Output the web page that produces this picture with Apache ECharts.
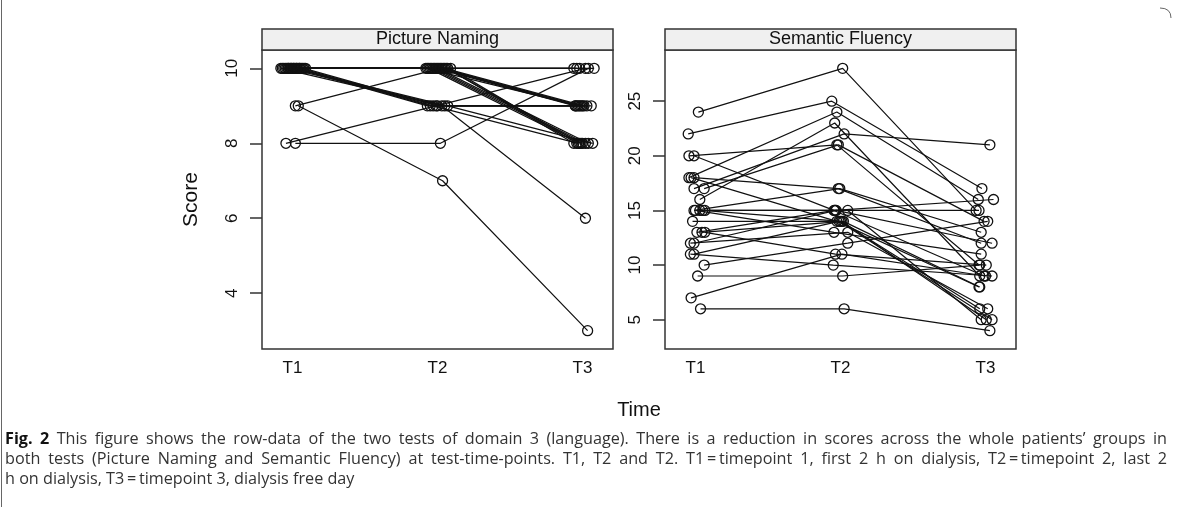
<!DOCTYPE html>
<html><head><meta charset="utf-8">
<script src="https://cdn.jsdelivr.net/npm/echarts@6/dist/echarts.min.js"></script>
<style>html,body{margin:0;padding:0;background:#fff}#c{width:1179px;height:507px}</style>
</head><body><div id="c"></div>
<script>
// ---------- data ----------
const timeLabels = ['T1', 'T2', 'T3'];
const panelTitles = ['Picture Naming', 'Semantic Fluency'];
const pnTicks = [4, 6, 8, 10];
const sfTicks = [5, 10, 15, 20, 25];

// Picture Naming scores per subject at T1, T2, T3
const pnT1 = [10,10,10,10,10,10,10,10,10,10,10,10,10,10,10,10,10,10,10,10,9,9,8,8,10,10,10];
const pnT2 = [10,10,10,10,10,10,10,10,10,10,10,10,10,9,9,9,9,9,9,9,10,7,9,8,10,10,10];
const pnT3 = [10,10,10,9,9,9,9,8,8,8,8,8,8,9,9,8,9,6,9,8,9,3,10,10,10,8,9];
// jittered time positions
const pnX1 = [0.93,0.95,0.97,0.99,1.01,1.03,1.05,1.07,1.09,0.94,0.96,0.98,1.00,1.02,1.04,1.06,1.08,0.92,0.97,1.01,1.02,1.04,0.955,1.02,1.05,0.99,1.03];
const pnX2 = [1.93,1.95,1.97,1.99,2.01,2.03,2.05,2.07,2.09,1.94,1.96,1.98,2.00,1.93,1.95,1.97,2.00,2.03,2.05,2.07,2.02,2.035,1.99,2.02,2.04,2.06,1.92];
const pnX3 = [2.94,2.96,2.98,2.95,2.97,2.99,3.01,2.94,2.96,2.98,3.00,3.02,3.04,3.03,2.95,2.97,3.00,3.02,3.06,3.07,2.96,3.035,3.02,3.04,3.08,2.99,2.98];

// Semantic Fluency scores per subject at T1, T2, T3
const sfT1 = [24,22,16,20,20,18,18,18,17,17,15,15,15,15,15,14,13,13,13,12,12,11,11,10,9,7,6];
const sfT2 = [28,25,23,21,15,24,17,14,22,21,17,15,15,14,13,14,15,14,11,13,15,10,14,12,9,11,6];
const sfT3 = [15,17,9,10,9,16,12,8,21,14,13,16,5,5,11,6,15,8,10,6,12,9,5,14,10,9,4];
const sfX1 = [1.02,0.95,1.03,0.955,0.99,0.955,0.99,0.97,0.99,1.06,0.99,1.03,1.065,1.05,1.00,0.98,1.01,1.045,1.065,0.965,0.99,0.965,0.99,1.06,1.015,0.97,1.035];
const sfX2 = [2.015,1.94,1.96,1.975,1.955,1.975,1.985,1.975,2.025,1.985,1.995,1.965,2.05,2.01,1.955,2.0,1.96,2.02,1.965,2.05,1.97,1.95,1.99,2.05,2.015,2.01,2.025];
const sfX3 = [2.935,2.975,2.96,2.955,2.99,2.95,2.97,2.955,3.03,2.99,2.97,3.055,2.97,3.005,2.97,2.96,2.955,2.96,3.005,3.015,3.045,3.045,3.045,3.015,2.96,3.0,3.03];

// caption lines: [bold lead, regular text, justified?]
const caption = [
  ['Fig. 2', 'This figure shows the row-data of the two tests of domain 3 (language). There is a reduction in scores across the whole patients\u2019 groups in', true],
  ['', 'both tests (Picture Naming and Semantic Fluency) at test-time-points. T1, T2 and T2. T1\u2009=\u2009timepoint 1, first 2 h on dialysis, T2\u2009=\u2009timepoint 2, last 2', true],
  ['', 'h on dialysis, T3\u2009=\u2009timepoint 3, dialysis free day', false]
];

// ---------- layout ----------
const GRIDS = [
  {left: 262, top: 50, width: 351, height: 299},
  {left: 665, top: 50, width: 351, height: 299}
];
const STRIP_H = 21;
const FONT = '"Liberation Sans", Arial, Helvetica, sans-serif';
const CAP_FONT = '16.2px "Open Sans", sans-serif';
const CAP_LEFT = 5, CAP_RIGHT = 1167;
const INK = '#111';
const FRAME = '#333';

function subjectSeries(xs, ys, idx) {
  const out = [];
  for (let i = 0; i < ys[0].length; i++) {
    out.push({
      type: 'line', xAxisIndex: idx, yAxisIndex: idx,
      data: [[xs[0][i], ys[0][i]], [xs[1][i], ys[1][i]], [xs[2][i], ys[2][i]]],
      symbol: 'circle', symbolSize: 10,
      itemStyle: {color: 'rgba(0,0,0,0)', borderColor: INK, borderWidth: 1.3},
      lineStyle: {color: INK, width: 1.2},
      silent: true, animation: false, z: 3
    });
  }
  return out;
}

const series = [
  ...subjectSeries([pnX1, pnX2, pnX3], [pnT1, pnT2, pnT3], 0),
  ...subjectSeries([sfX1, sfX2, sfX3], [sfT1, sfT2, sfT3], 1)
];

function xAxis(idx) {
  return {
    type: 'value', gridIndex: idx, min: 0.79, max: 3.21,
    axisLine: {show: false}, axisTick: {show: false}, splitLine: {show: false},
    axisLabel: {
      customValues: [1, 2, 3], margin: 11,
      formatter: v => timeLabels[Math.round(v) - 1],
      color: INK, fontSize: 17, fontFamily: FONT
    }
  };
}
function yAxis(idx, min, max, ticks, name) {
  return {
    type: 'value', gridIndex: idx, min: min, max: max,
    name: name || '', nameLocation: 'middle', nameGap: 60, nameRotate: 90,
    nameTextStyle: {fontSize: 21, color: INK, fontFamily: FONT},
    axisLine: {show: false}, splitLine: {show: false},
    axisTick: {show: true, length: 12, customValues: ticks, lineStyle: {color: FRAME, width: 1.5}},
    axisLabel: {customValues: ticks, rotate: 90, margin: 21, color: INK, fontSize: 17, fontFamily: FONT}
  };
}

const graphics = [];
GRIDS.forEach((g, i) => {
  graphics.push({
    type: 'rect', shape: {x: g.left, y: g.top - STRIP_H, width: g.width, height: STRIP_H},
    style: {fill: '#f0f0f0', stroke: FRAME, lineWidth: 1.5}, silent: true
  });
  graphics.push({
    type: 'text', x: g.left + g.width / 2, y: g.top - STRIP_H / 2,
    style: {text: panelTitles[i], fill: INK, font: '18px ' + FONT, textAlign: 'center', textVerticalAlign: 'middle'},
    silent: true
  });
});
graphics.push({
  type: 'text', x: (GRIDS[0].left + GRIDS[1].left + GRIDS[1].width) / 2, y: 410,
  style: {text: 'Time', fill: INK, font: '20px ' + FONT, textAlign: 'center', textVerticalAlign: 'middle'},
  silent: true
});

// justified caption: each word placed separately
const mctx = document.createElement('canvas').getContext('2d');
function measure(word, font) { mctx.font = font; return mctx.measureText(word).width; }
caption.forEach((ln, i) => {
  const y = 439 + i * 20;
  const words = [];
  if (ln[0]) ln[0].split(' ').forEach(w => words.push({w, bold: true}));
  ln[1].split(' ').forEach(w => words.push({w, bold: false}));
  const fonts = words.map(o => (o.bold ? 'bold ' : '') + CAP_FONT);
  const widths = words.map((o, k) => measure(o.w, fonts[k]));
  const total = widths.reduce((a, b) => a + b, 0);
  const natGap = measure(' ', CAP_FONT);
  const gap = ln[2] ? (CAP_RIGHT - CAP_LEFT - total) / (words.length - 1) : natGap;
  let x = CAP_LEFT;
  words.forEach((o, k) => {
    graphics.push({
      type: 'text', x: x, y: y,
      style: {text: o.w, font: fonts[k], fill: o.bold ? '#111' : '#333', textVerticalAlign: 'middle'},
      silent: true
    });
    x += widths[k] + gap;
  });
});
// page frame remnants
graphics.push({type: 'line', shape: {x1: 1.5, y1: 0, x2: 1.5, y2: 507}, style: {stroke: '#666', lineWidth: 1}, silent: true});
graphics.push({type: 'bezierCurve', shape: {x1: 1160, y1: 8, cpx1: 1171, cpy1: 8, x2: 1171, y2: 18}, style: {stroke: '#666', lineWidth: 1, fill: null}, silent: true});

const chart = echarts.init(document.getElementById('c'), null, {renderer: 'canvas'});
chart.setOption({
  animation: false,
  backgroundColor: '#fff',
  grid: GRIDS.map(g => Object.assign({show: true, borderColor: FRAME, borderWidth: 1.5, backgroundColor: 'transparent', containLabel: false}, g)),
  xAxis: [xAxis(0), xAxis(1)],
  yAxis: [yAxis(0, 2.51, 10.49, pnTicks, 'Score'), yAxis(1, 2.32, 29.68, sfTicks)],
  series: series,
  graphic: graphics
});
</script>
</body></html>
